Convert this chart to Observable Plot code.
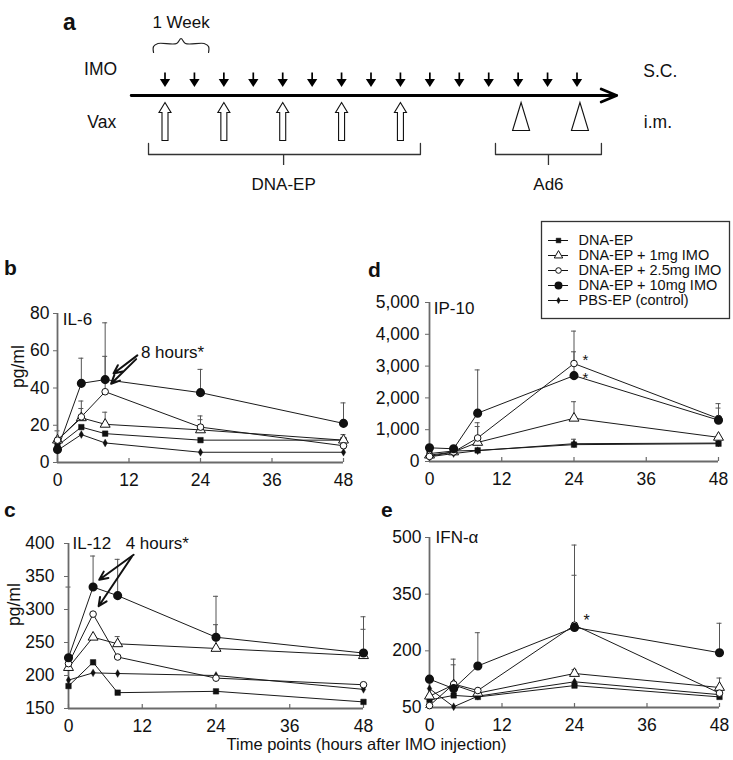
<!DOCTYPE html>
<html>
<head>
<meta charset="utf-8">
<script src="https://cdn.jsdelivr.net/npm/d3@7"></script>
<script src="https://cdn.jsdelivr.net/npm/@observablehq/plot@0.6"></script>
<style>
  html, body { margin: 0; padding: 0; background: #fff; }
  #fig { position: relative; width: 733px; height: 760px; font-family: "Liberation Sans", Arial, Helvetica, sans-serif; color: #111; overflow: hidden; }
  #fig svg { position: absolute; overflow: visible; background: transparent; max-width: none; }
  .plab { position: absolute; font-weight: bold; font-size: 21px; line-height: 21px; }
  .xtitle { position: absolute; font-size: 16.5px; line-height: 17px; width: 733px; left: 0; text-align: center; }
</style>
</head>
<body>
<div id="fig"></div>
<script>
// ================= DATA =================
const hours = [0, 4, 8, 24, 48];
const xTicks = [0, 12, 24, 36, 48];
const groups = ["DNA-EP", "DNA-EP + 1mg IMO", "DNA-EP + 2.5mg IMO", "DNA-EP + 10mg IMO", "PBS-EP (control)"];

// b: IL-6 (pg/ml)
const il6Dna  = [9, 19, 15.5, 12, 12];
const il6_1mg = [12, 24, 20.5, 17.5, 12];
const il6_25mg = [12, 24.5, 38, 19, 9];
const il6_10mg = [7, 42.5, 44.5, 37.5, 21];
const il6Pbs  = [6.5, 15, 10.5, 5.5, 5.5];
const il6Hi_1mg = [null, 29, 27, 23, 13];
const il6Hi_25mg = [17, 33, 57, 25, 15];
const il6Hi_10mg = [null, 56, 75, 50, 32];
const il6Ticks = [0, 20, 40, 60, 80];

// d: IP-10 (pg/ml)
const ip10Dna  = [250, 330, 350, 530, 560];
const ip10_1mg = [200, 300, 600, 1360, 760];
const ip10_25mg = [160, 300, 740, 3080, 1350];
const ip10_10mg = [430, 400, 1520, 2700, 1300];
const ip10Pbs  = [150, 250, 340, 560, 580];
const ip10HiDna = [null, null, null, 700, null];
const ip10Hi_1mg = [null, null, 1100, 1880, null];
const ip10Hi_25mg = [null, null, 1220, 3450, 1680];
const ip10Hi_10mg = [null, null, 2880, 4100, 1820];
const ip10Ticks = [0, 1000, 2000, 3000, 4000, 5000];

// c: IL-12 (pg/ml)
const il12Dna  = [184, 220, 174, 176, 160];
const il12_1mg = [212, 258, 248, 241, 230];
const il12_25mg = [218, 293, 228, 196, 186];
const il12_10mg = [227, 334, 321, 258, 234];
const il12Pbs  = [193, 204, 203, 200, 179];
const il12Hi_1mg = [null, null, 259, 277, 270];
const il12Hi_10mg = [334, 381, 376, 320, 289];
const il12Ticks = [150, 200, 250, 300, 350, 400];

// e: IFN-alpha (pg/ml)
const ifnDna  = [70, 82, 78, 108, 78];
const ifn_1mg = [80, 110, 88, 140, 103];
const ifn_25mg = [55, 112, 95, 268, 88];
const ifn_10mg = [125, 100, 160, 262, 195];
const ifnPbs  = [100, 52, 80, 118, 84];
const ifnHi_1mg = [null, null, null, 150, 128];
const ifnHi_25mg = [125, 163, null, 400, null];
const ifnHi_10mg = [130, 178, 248, 480, 273];
const ifnTicks = [50, 200, 350, 500];

// annotations (data units of each panel)
const il6Arrows = [{x1: 13.4, y1: 57.5, x2: 9.4, y2: 47.8}, {x1: 13.2, y1: 55.5, x2: 9.0, y2: 42.3}];
const il12Arrows = [{x1: 10.6, y1: 383, x2: 5.0, y2: 345}, {x1: 10.3, y1: 380, x2: 4.9, y2: 305}];
const ip10Stars = [{t: 25.4, v: 3300}, {t: 25.4, v: 2760}];
const ifnStars = [{t: 25.5, v: 290}];

// panel a schedule (weeks)
const imoWeeks = [0, 1, 2, 3, 4, 5, 6, 7, 8, 9, 10, 11, 12, 13, 14];
const dnaEpWeeks = [0, 2, 4, 6, 8];
const ad6Weeks = [12.1, 14.1];

// ================= HELPERS =================
const FONT = '"Liberation Sans", Arial, Helvetica, sans-serif';
const fig = document.getElementById("fig");
function place(el, left, top) { el.style.left = left + "px"; el.style.top = top + "px"; fig.appendChild(el); return el; }
function label(txt, cls, left, top) { const d = document.createElement("div"); d.className = cls; d.textContent = txt; return place(d, left, top); }

const dotStyle = [
  {symbol: "square", fill: "#111", stroke: "#111", strokeWidth: 0.5, r: 3.1},
  {symbol: "triangle", fill: "white", stroke: "#111", strokeWidth: 1, r: 3.7},
  {symbol: "circle", fill: "white", stroke: "#111", strokeWidth: 1, r: 3.3},
  {symbol: "circle", fill: "#111", stroke: "#111", r: 3.8},
  {symbol: "diamond", fill: "#111", stroke: "#111", strokeWidth: 0.3, r: 2.4}
];
const drawOrder = [4, 0, 1, 2, 3];

function panel({vals, his, yDomain, yTicks, fmt, pad, W, H, m, ylab, ylabDx, notes}) {
  const rows = [], errs = [];
  groups.forEach((g, k) => hours.forEach((t, i) => {
    rows.push({g, k, t, v: vals[k][i]});
    if (his[k] && his[k][i] != null) errs.push({t, v: vals[k][i], hi: his[k][i]});
  }));
  const y0 = yDomain[0];
  const axisGray = "#6a6a6a";
  return Plot.plot({
    width: W, height: H,
    marginLeft: m[0], marginRight: m[1], marginTop: m[2], marginBottom: m[3],
    x: {domain: [0, 48]},
    y: {domain: yDomain},
    style: {fontFamily: FONT, fontSize: "17.5px", color: "#111", background: "transparent", overflow: "visible"},
    marks: [
      Plot.ruleX(errs, {x: "t", y1: "v", y2: "hi", stroke: "#555", strokeWidth: 1}),
      Plot.ruleY(errs, {y: "hi", x1: "t", x2: "t", insetLeft: -2.5, insetRight: -2.5, stroke: "#555", strokeWidth: 1}),
      Plot.ruleX([0], {stroke: axisGray, strokeWidth: 1.8}),
      Plot.ruleY([y0], {stroke: axisGray, strokeWidth: 1.8}),
      Plot.ruleX(xTicks, {x: d => d, y1: y0, y2: y0, insetBottom: 4, stroke: axisGray, strokeWidth: 1.2}),
      Plot.axisY({ticks: yTicks, tickFormat: fmt, tickSize: 4, tickPadding: pad, label: null, stroke: axisGray}),
      Plot.axisX({ticks: xTicks, tickSize: 0, tickPadding: 11, label: null}),
      Plot.line(rows, {x: "t", y: "v", z: "g", stroke: "#1a1a1a", strokeWidth: 1}),
      ...drawOrder.map(k => Plot.dot(rows.filter(r => r.k === k), {x: "t", y: "v", ...dotStyle[k]})),
      ...(ylab ? [Plot.text([ylab], {frameAnchor: "left", rotate: -90, dx: ylabDx, fontSize: 17.5})] : []),
      ...notes
    ]
  });
}

// ================= PANEL A (schedule) =================
const downArrowSym = {draw(ctx) { ctx.moveTo(0, -13); ctx.lineTo(0, -5); ctx.moveTo(-3.6, -5.6); ctx.lineTo(3.6, -5.6); ctx.lineTo(0, 0); ctx.closePath(); }};
const blockArrowSym = {draw(ctx) { ctx.moveTo(0, 0); ctx.lineTo(6, 10); ctx.lineTo(3, 10); ctx.lineTo(3, 38); ctx.lineTo(-3, 38); ctx.lineTo(-3, 10); ctx.lineTo(-6, 10); ctx.closePath(); }};
const triSym = {draw(ctx) { ctx.moveTo(0, 0); ctx.lineTo(8.5, 28); ctx.lineTo(-8.5, 28); ctx.closePath(); }};

const braceL = -0.39, braceR = 1.48, braceM = (braceL + braceR) / 2;
const bracePts = [[braceL, 52], [braceL, 46], [braceL + 0.15, 43], [braceM - 0.15, 43], [braceM, 38], [braceM + 0.15, 43], [braceR - 0.15, 43], [braceR, 46], [braceR, 52]];
const dnaBracket = [[-0.56, 143], [-0.56, 154], [8.68, 154], [8.68, 143]];
const ad6Bracket = [[11.23, 143], [11.23, 154], [14.83, 154], [14.83, 143]];

const schedule = Plot.plot({
  width: 733, height: 200, margin: 0,
  x: {domain: [0, 14], range: [164.5, 576.5], axis: null},
  y: {domain: [0, 200], range: [0, 200], axis: null},
  style: {fontFamily: FONT, fontSize: "17px", color: "#111", background: "transparent", overflow: "visible"},
  marks: [
    Plot.text(["a"], {x: -3.25, y: 22, fontSize: 23, fontWeight: "bold"}),
    Plot.text(["1 Week"], {x: braceM, y: 22, fontSize: 17}),
    Plot.line(bracePts, {x: d => d[0], y: d => d[1], stroke: "#222", strokeWidth: 1.2, curve: "catmull-rom"}),
    Plot.text(["IMO"], {x: -2.19, y: 69, fontSize: 17.5}),
    Plot.text(["Vax"], {x: -2.15, y: 122, fontSize: 17.5}),
    Plot.text(["S.C."], {x: 16.83, y: 71, fontSize: 17.5}),
    Plot.text(["i.m."], {x: 16.75, y: 122, fontSize: 17.5}),
    Plot.dot(imoWeeks, {x: d => d, y: 85, symbol: downArrowSym, fill: "#000", stroke: "#000", strokeWidth: 1.7}),
    Plot.arrow([0], {x1: -1.15, x2: 15.35, y1: 95, y2: 95, stroke: "#000", strokeWidth: 2.8, headLength: 9, headAngle: 45}),
    Plot.dot(dnaEpWeeks, {x: d => d, y: 102, symbol: blockArrowSym, fill: "white", stroke: "#111", strokeWidth: 1.1}),
    Plot.dot(ad6Weeks, {x: d => d, y: 102, symbol: triSym, fill: "white", stroke: "#111", strokeWidth: 1.1}),
    Plot.line(dnaBracket, {x: d => d[0], y: d => d[1], stroke: "#333", strokeWidth: 1.3}),
    Plot.line(ad6Bracket, {x: d => d[0], y: d => d[1], stroke: "#333", strokeWidth: 1.3}),
    Plot.ruleX([4.03], {x: d => d, y1: 154, y2: 165, stroke: "#333", strokeWidth: 1.3}),
    Plot.ruleX([13.03], {x: d => d, y1: 154, y2: 165, stroke: "#333", strokeWidth: 1.3}),
    Plot.text(["DNA-EP"], {x: 4.03, y: 184, fontSize: 17}),
    Plot.text(["Ad6"], {x: 13.03, y: 184, fontSize: 17})
  ]
});
place(schedule, 0, 0);

// ================= PANEL B (IL-6) =================
const pb = panel({
  vals: [il6Dna, il6_1mg, il6_25mg, il6_10mg, il6Pbs],
  his: [null, il6Hi_1mg, il6Hi_25mg, il6Hi_10mg, null],
  yDomain: [0, 80], yTicks: il6Ticks, fmt: d3.format("d"), pad: 4,
  W: 366, H: 200, m: [57, 23, 23, 28], ylab: "pg/ml", ylabDx: -39,
  notes: [
    Plot.text(["IL-6"], {x: 0.9, y: 77, textAnchor: "start", fontSize: 17}),
    Plot.text(["8 hours*"], {x: 14, y: 59, textAnchor: "start", fontSize: 17}),
    Plot.arrow(il6Arrows, {x1: "x1", y1: "y1", x2: "x2", y2: "y2", stroke: "#111", strokeWidth: 2, headLength: 7, headAngle: 50})
  ]
});
place(pb, 0, 290);

// ================= PANEL D (IP-10) =================
const pd = panel({
  vals: [ip10Dna, ip10_1mg, ip10_25mg, ip10_10mg, ip10Pbs],
  his: [ip10HiDna, ip10Hi_1mg, ip10Hi_25mg, ip10Hi_10mg, null],
  yDomain: [0, 5000], yTicks: ip10Ticks, fmt: d3.format(","), pad: 6,
  W: 367, H: 200, m: [63, 15, 12, 29], ylab: null, ylabDx: 0,
  notes: [
    Plot.text(["IP-10"], {x: 0.7, y: 4800, textAnchor: "start", fontSize: 17}),
    Plot.text(ip10Stars, {x: "t", y: "v", text: () => "*", textAnchor: "start", fontSize: 15, dy: 4})
  ]
});
place(pd, 366, 290);

// ================= PANEL C (IL-12) =================
const pc = panel({
  vals: [il12Dna, il12_1mg, il12_25mg, il12_10mg, il12Pbs],
  his: [null, il12Hi_1mg, null, il12Hi_10mg, null],
  yDomain: [150, 400], yTicks: il12Ticks, fmt: d3.format("d"), pad: 10,
  W: 366, H: 210, m: [68, 3, 23, 22], ylab: "pg/ml", ylabDx: -54,
  notes: [
    Plot.text(["IL-12"], {x: 0.65, y: 400, textAnchor: "start", fontSize: 17}),
    Plot.text(["4 hours*"], {x: 9.3, y: 400, textAnchor: "start", fontSize: 17}),
    Plot.arrow(il12Arrows, {x1: "x1", y1: "y1", x2: "x2", y2: "y2", stroke: "#111", strokeWidth: 2, headLength: 7, headAngle: 50})
  ]
});
place(pc, 0, 520);

// ================= PANEL E (IFN-alpha) =================
const pe = panel({
  vals: [ifnDna, ifn_1mg, ifn_25mg, ifn_10mg, ifnPbs],
  his: [null, ifnHi_1mg, ifnHi_25mg, ifnHi_10mg, null],
  yDomain: [50, 500], yTicks: ifnTicks, fmt: d3.format("d"), pad: 4,
  W: 367, H: 210, m: [63, 14, 17, 23], ylab: null, ylabDx: 0,
  notes: [
    Plot.text(["IFN-α"], {x: 1, y: 500, textAnchor: "start", fontSize: 17}),
    Plot.text(ifnStars, {x: "t", y: "v", text: () => "*", textAnchor: "start", fontSize: 16, dy: 4})
  ]
});
place(pe, 366, 520);

// ================= LEGEND =================
const legend = Plot.plot({
  width: 188, height: 97, margin: 0,
  x: {domain: [0, 188], axis: null},
  y: {type: "point", domain: groups, range: [11, 86], axis: null},
  style: {fontFamily: FONT, fontSize: "14px", color: "#111", background: "white", overflow: "visible"},
  marks: [
    Plot.frame({stroke: "#333", strokeWidth: 1.3, fill: "white"}),
    Plot.ruleY(groups, {y: d => d, x1: 7, x2: 27, stroke: "#111", strokeWidth: 1}),
    ...drawOrder.map(k => Plot.dot([groups[k]], {x: 17, y: d => d, ...dotStyle[k], r: dotStyle[k].r * 0.85})),
    Plot.text(groups, {x: 37, y: d => d, textAnchor: "start", fontSize: 14.5})
  ]
});
place(legend, 541, 221);

// ================= LABELS =================
label("b", "plab", 4, 257);
label("d", "plab", 368, 259);
label("c", "plab", 4, 499);
label("e", "plab", 381, 499);
label("Time points (hours after IMO injection)", "xtitle", 0, 736);
</script>
</body>
</html>
